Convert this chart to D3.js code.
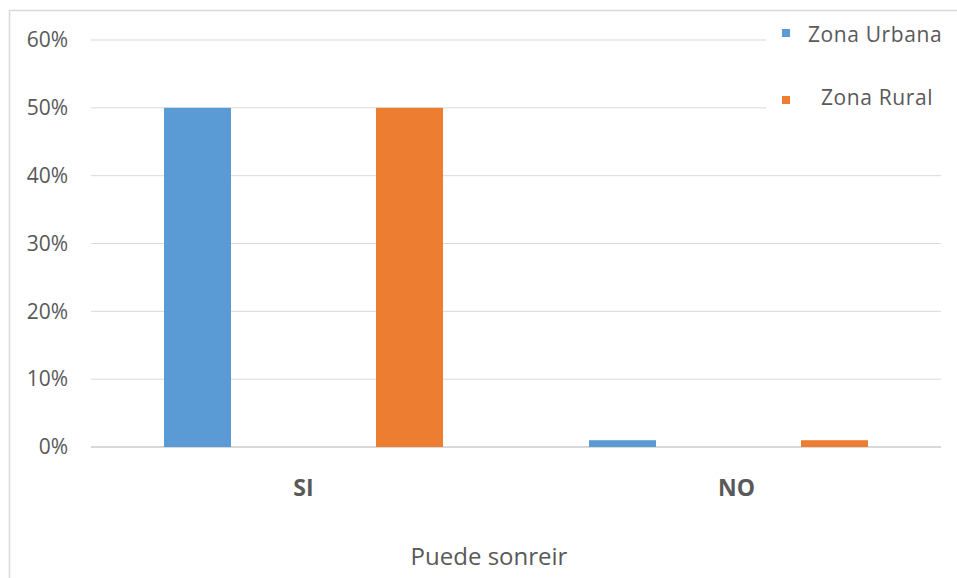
<!DOCTYPE html>
<html>
<head>
<meta charset="utf-8">
<script src="https://cdn.jsdelivr.net/npm/d3@7"></script>
<style>
  html, body { margin: 0; padding: 0; background: #fff; }
  svg { display: block; }
  text { font-family: "Open Sans", "Noto Sans", sans-serif; fill: #595959; }
</style>
</head>
<body>
<svg id="chart" width="957" height="578"></svg>
<script>
// Categories and series (share of respondents)
const categories = ["SI", "NO"];
const seriesNames = ["Zona Urbana", "Zona Rural"];
const urbana = [0.50, 0.01];
const rural = [0.50, 0.01];
const yTicks = [0, 0.1, 0.2, 0.3, 0.4, 0.5, 0.6];
const colors = ["#5B9BD5", "#ED7D31"];
const xTitle = "Puede sonreir";

const svg = d3.select("#chart");
const W = 957, H = 578;
const plot = { left: 91, right: 941, top: 40, bottom: 447 };

// Chart frame
svg.append("rect").attr("x", 9.5).attr("y", 10.5).attr("width", W).attr("height", H)
  .attr("fill", "#fff").attr("stroke", "#d9d9d9").attr("stroke-width", 1.5);

const x = d3.scaleBand().domain(categories).range([plot.left, plot.right]);
const y = d3.scaleLinear().domain([0, 0.6]).range([plot.bottom, plot.top]);

// Gridlines
svg.append("g").selectAll("line").data(yTicks).join("line")
  .attr("x1", plot.left).attr("x2", plot.right)
  .attr("y1", d => y(d)).attr("y2", d => y(d))
  .attr("stroke", "#d9d9d9").attr("stroke-width", d => d === 0 ? 2 : 1);

// Y axis labels
const yAxis = d3.axisLeft(y).tickValues(yTicks).tickFormat(d3.format(".0%")).tickSize(0).tickPadding(23);
const yg = svg.append("g").attr("transform", `translate(${plot.left},0)`).call(yAxis);
yg.select(".domain").remove();
yg.selectAll("text").style("font-size", "21px").attr("fill", "#595959")
  .style("font-family", "'Open Sans', sans-serif");

// Bars: each series offset from the category centre
const offset = 106, barW = 67;
const data = categories.map((c, i) => ({ c, vals: [urbana[i], rural[i]] }));
const g = svg.append("g");
data.forEach(d => {
  d.vals.forEach((v, s) => {
    const cx = x(d.c) + x.bandwidth() / 2 + (s === 0 ? -offset : offset);
    g.append("rect")
      .attr("x", cx - barW / 2).attr("width", barW)
      .attr("y", y(v)).attr("height", y(0) - y(v))
      .attr("fill", colors[s]);
  });
});

// Category labels
const labelNudge = [0, 8];
svg.append("g").selectAll("text").data(categories).join("text")
  .attr("x", (d, i) => x(d) + x.bandwidth() / 2 + labelNudge[i]).attr("y", 496)
  .attr("text-anchor", "middle").style("font-size", "23px").style("font-weight", "bold")
  .text(d => d);

// Axis title
svg.append("text").attr("x", 489).attr("y", 565).attr("text-anchor", "middle")
  .style("font-size", "24px").text(xTitle);

// Legend (white box over the top-right corner of the plot)
svg.append("rect").attr("x", 766).attr("y", 12).attr("width", 191).attr("height", 105).attr("fill", "#fff");
const legendPos = [{ sx: 782, sy: 29, tx: 808, ty: 42 }, { sx: 782, sy: 96, tx: 821, ty: 105 }];
seriesNames.forEach((n, i) => {
  const p = legendPos[i];
  svg.append("rect").attr("x", p.sx).attr("y", p.sy).attr("width", 8).attr("height", 8).attr("fill", colors[i]);
  svg.append("text").attr("x", p.tx).attr("y", p.ty).style("font-size", "21px")
    .style("letter-spacing", "0.6px").text(n);
});
</script>
</body>
</html>
